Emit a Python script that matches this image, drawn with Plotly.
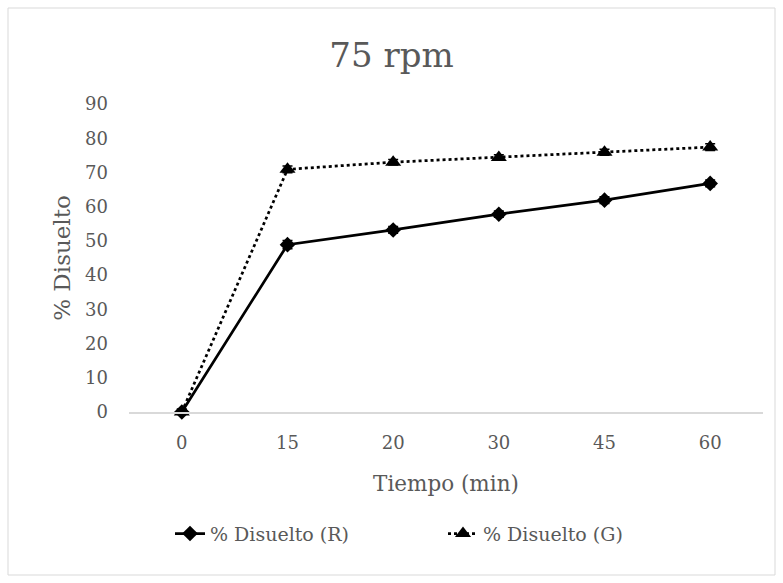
import plotly.graph_objects as go

tiempo = ["0", "15", "20", "30", "45", "60"]
disuelto_r = [0, 48.9, 53.2, 57.8, 61.9, 66.8]
disuelto_g = [0, 70.9, 73.0, 74.4, 75.9, 77.4]
err_r = [0.8, 1.2, 1.0, 0.9, 1.0, 1.0]
err_g = [0.8, 1.0, 0.8, 0.8, 0.9, 1.0]

FONT = "DejaVu Serif"
GREY = "#595959"

fig = go.Figure()
fig.add_trace(go.Scatter(
    x=tiempo, y=disuelto_r, mode="lines+markers", name="% Disuelto (R)",
    line=dict(color="black", width=2.75),
    marker=dict(symbol="diamond", size=12, color="black"),
    error_y=dict(type="data", array=err_r, color="black", thickness=1.5, width=5),
    cliponaxis=False,
))
fig.add_trace(go.Scatter(
    x=tiempo, y=disuelto_g, mode="lines+markers", name="% Disuelto (G)",
    line=dict(color="black", width=2.75, dash="dot"),
    marker=dict(symbol="triangle-up", size=14, color="black"),
    error_y=dict(type="data", array=err_g, color="black", thickness=1.5, width=5),
    cliponaxis=False,
))

fig.update_layout(
    width=783, height=583,
    paper_bgcolor="white", plot_bgcolor="white",
    margin=dict(l=129, r=20, t=104, b=171),
    font=dict(family=FONT, color=GREY, size=17),
    title=dict(text="75 rpm", x=0.5, xanchor="center", y=0.905, yanchor="middle",
               font=dict(family=FONT, size=34, color=GREY)),
    showlegend=True,
    legend=dict(orientation="h", x=(170 - 129) / 634, xanchor="left", y=-0.395,
                yanchor="middle", font=dict(family=FONT, size=19, color=GREY),
                entrywidth=228, entrywidthmode="pixels", traceorder="normal"),
    xaxis=dict(type="category", range=[-0.5, 5.5], showgrid=False, zeroline=False,
               showline=True, linecolor="#d9d9d9", linewidth=1.5, ticks="",
               tickfont=dict(size=18, color=GREY), ticklabelstandoff=14,
               title=dict(text="Tiempo (min)", font=dict(size=21.5, color=GREY), standoff=24)),
    yaxis=dict(range=[0, 90], dtick=10, showgrid=False, zeroline=False, showline=False,
               ticks="", tickfont=dict(size=18, color=GREY), ticklabelstandoff=20,
               title=dict(text="% Disuelto", font=dict(size=23, color=GREY), standoff=8)),
    shapes=[dict(type="rect", xref="paper", yref="paper",
                 x0=(8 - 129) / 634, x1=(775 - 129) / 634,
                 y0=(412 - 575) / 308, y1=(412 - 8) / 308,
                 line=dict(color="#d9d9d9", width=1), fillcolor="rgba(0,0,0,0)",
                 layer="below")],
)

fig.write_html("out.html")
